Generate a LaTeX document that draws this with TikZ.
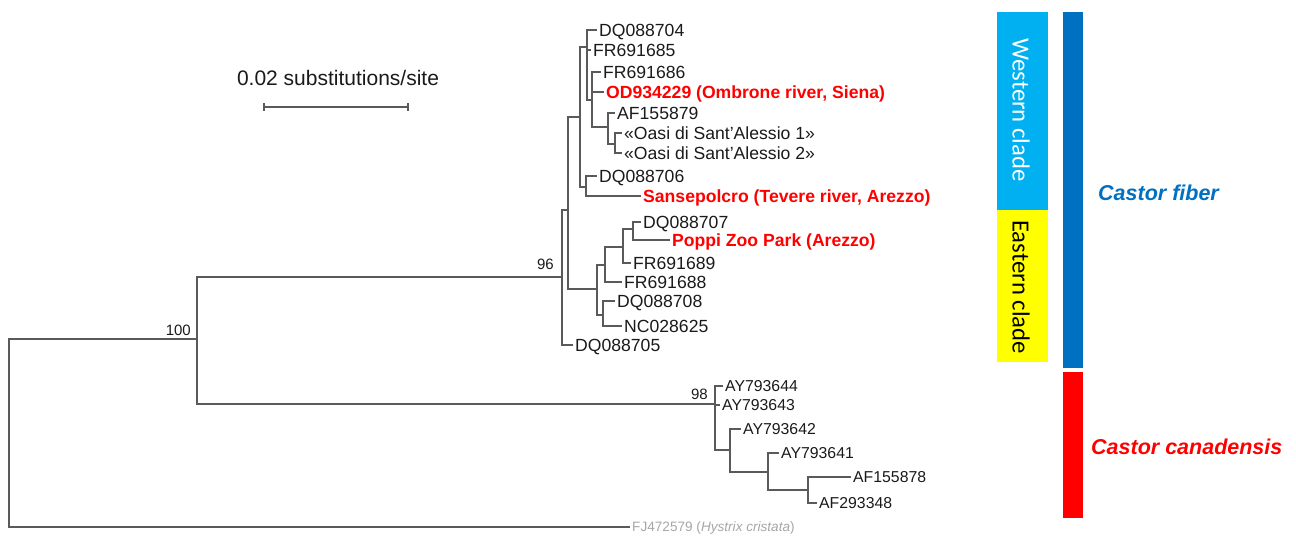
\documentclass[tikz,border=0pt]{standalone}
\usepackage{fontspec}
\setmainfont{Liberation Sans}
\newfontfamily\carlito{Carlito}
\definecolor{treegray}{HTML}{5A5A5A}
\definecolor{labelblack}{HTML}{1A1A1A}
\definecolor{outgray}{HTML}{A6A6A6}
\definecolor{westblue}{HTML}{00B0F0}
\definecolor{eastyellow}{HTML}{FFFF00}
\definecolor{fiberblue}{HTML}{0070C0}
\definecolor{canred}{HTML}{FF0000}
\begin{document}
\begin{tikzpicture}[x=1pt,y=-1pt,
  br/.style={draw=treegray, line width=1.2pt, line join=miter},
  tip/.style={anchor=west, inner xsep=2pt, inner ysep=0pt, text height=12.6pt, text depth=0pt, text=labelblack, font=\fontsize{17.6}{20}\selectfont},
  tipsm/.style={tip, text height=11.3pt, font=\fontsize{15.8}{18}\selectfont},
  hl/.style={tip, text=canred, font=\fontsize{17.6}{20}\selectfont\bfseries},
  outg/.style={tip, text height=9.7pt, text=outgray, font=\fontsize{13.6}{16}\selectfont},
  boot/.style={anchor=south east, inner sep=0pt, text=labelblack, font=\fontsize{15}{17}\selectfont},
  clade/.style={rotate=-90, inner sep=0pt, font=\carlito\fontsize{24.7}{28}\selectfont},
  species/.style={anchor=west, inner sep=0pt, font=\bfseries\itshape\fontsize{21.5}{24}\selectfont},
]
\useasboundingbox (0,0) rectangle (1296,538);

% ---- tip labels ----
\node[tip] (dq704) at (597,30) {DQ088704};
\node[tip] (fr685) at (591,50) {FR691685};
\node[tip] (fr686) at (601,72) {FR691686};
\node[hl]  (od) at (604,92) {OD934229 (Ombrone river, Siena)};
\node[tip] (af879) at (615,113) {AF155879};
\node[tip] (oasi1) at (622,133) {«Oasi di Sant’Alessio 1»};
\node[tip] (oasi2) at (622,153) {«Oasi di Sant’Alessio 2»};
\node[tip] (dq706) at (597,176) {DQ088706};
\node[hl]  (sans) at (641,196) {Sansepolcro (Tevere river, Arezzo)};
\node[tip] (dq707) at (641,222) {DQ088707};
\node[hl]  (poppi) at (670,240) {Poppi Zoo Park (Arezzo)};
\node[tip] (fr689) at (631,263) {FR691689};
\node[tip] (fr688) at (622,282) {FR691688};
\node[tip] (dq708) at (615,301) {DQ088708};
\node[tip] (nc) at (622,326) {NC028625};
\node[tip] (dq705) at (573,345) {DQ088705};
\node[tipsm] (ay644) at (723,386) {AY793644};
\node[tipsm] (ay643) at (720,405) {AY793643};
\node[tipsm] (ay642) at (741,429) {AY793642};
\node[tipsm] (ay641) at (779,453) {AY793641};
\node[tipsm] (af878) at (851,477) {AF155878};
\node[tipsm] (af348) at (817,503) {AF293348};
\node[outg] (fj) at (630,527) {FJ472579 (\textit{Hystrix cristata})};

% ---- internal nodes ----
\coordinate (R) at (9,433);
\coordinate (N100) at (197,339);
\coordinate (N96) at (562,277);
\coordinate (Na) at (568,210);
\coordinate (W) at (580,117);
\coordinate (A) at (587,47);
\coordinate (C) at (592,100);
\coordinate (E) at (608,127);
\coordinate (F) at (615,144);
\coordinate (B) at (586,187);
\coordinate (Ea) at (597,289);
\coordinate (Eb) at (605,265);
\coordinate (Ec) at (623,247);
\coordinate (Ed) at (633,229);
\coordinate (Ee) at (603,315);
\coordinate (Ca) at (715,404);
\coordinate (Cb) at (730,450);
\coordinate (Cc) at (768,472);
\coordinate (Cd) at (808,490);

% ---- branches ----
\draw[br] (R) |- (N100);
\draw[br] (R) |- (fj.west);
\draw[br] (N100) |- (N96);
\draw[br] (N100) |- (Ca);
\draw[br] (N96) |- (Na);
\draw[br] (N96) |- (dq705.west);
\draw[br] (Na) |- (W);
\draw[br] (Na) |- (Ea);
\draw[br] (W) |- (A);
\draw[br] (W) |- (B);
\draw[br] (A) |- (dq704.west);
\draw[br] (A) |- (fr685.west);
\draw[br] (A) |- (C);
\draw[br] (C) |- (fr686.west);
\draw[br] (C) |- (od.west);
\draw[br] (C) |- (E);
\draw[br] (E) |- (af879.west);
\draw[br] (E) |- (F);
\draw[br] (F) |- (oasi1.west);
\draw[br] (F) |- (oasi2.west);
\draw[br] (B) |- (dq706.west);
\draw[br] (B) |- (sans.west);
\draw[br] (Ea) |- (Eb);
\draw[br] (Ea) |- (Ee);
\draw[br] (Eb) |- (Ec);
\draw[br] (Eb) |- (fr688.west);
\draw[br] (Ec) |- (Ed);
\draw[br] (Ec) |- (fr689.west);
\draw[br] (Ed) |- (dq707.west);
\draw[br] (Ed) |- (poppi.west);
\draw[br] (Ee) |- (dq708.west);
\draw[br] (Ee) |- (nc.west);
\draw[br] (Ca) |- (ay644.west);
\draw[br] (Ca) |- (ay643.west);
\draw[br] (Ca) |- (Cb);
\draw[br] (Cb) |- (ay642.west);
\draw[br] (Cb) |- (Cc);
\draw[br] (Cc) |- (ay641.west);
\draw[br] (Cc) |- (Cd);
\draw[br] (Cd) |- (af878.west);
\draw[br] (Cd) |- (af348.west);

% ---- bootstrap values ----
\node[boot] (b100) at (191,336) {100};
\node[boot] (b96) at (554,270) {96};
\node[boot] (b98) at (708,400) {98};

% ---- scale bar ----
\node[text=labelblack, font=\fontsize{21}{24}\selectfont] (scl) at (338,78) {0.02 substitutions/site};
\coordinate (sb1) at (264,107);
\coordinate (sb2) at (408,107);
\draw[br] (sb1) -- (sb2);
\draw[br] ([yshift=4pt]sb1) -- ([yshift=-4pt]sb1);
\draw[br] ([yshift=4pt]sb2) -- ([yshift=-4pt]sb2);

% ---- clade bars ----
\fill[westblue] (997,12) rectangle (1048,210);
\fill[eastyellow] (997,210) rectangle (1048,362);
\fill[fiberblue] (1063,12) rectangle (1083,368);
\fill[canred] (1063,372) rectangle (1083,518);
\node[clade, text=white] (wc) at (1021,110) {Western clade};
\node[clade, text=black] (ec) at (1021,287) {Eastern clade};
\node[species, text=fiberblue] (cf) at (1098,193) {Castor fiber};
\node[species, text=canred] (cc) at (1091,447) {Castor canadensis};
\end{tikzpicture}
\end{document}
